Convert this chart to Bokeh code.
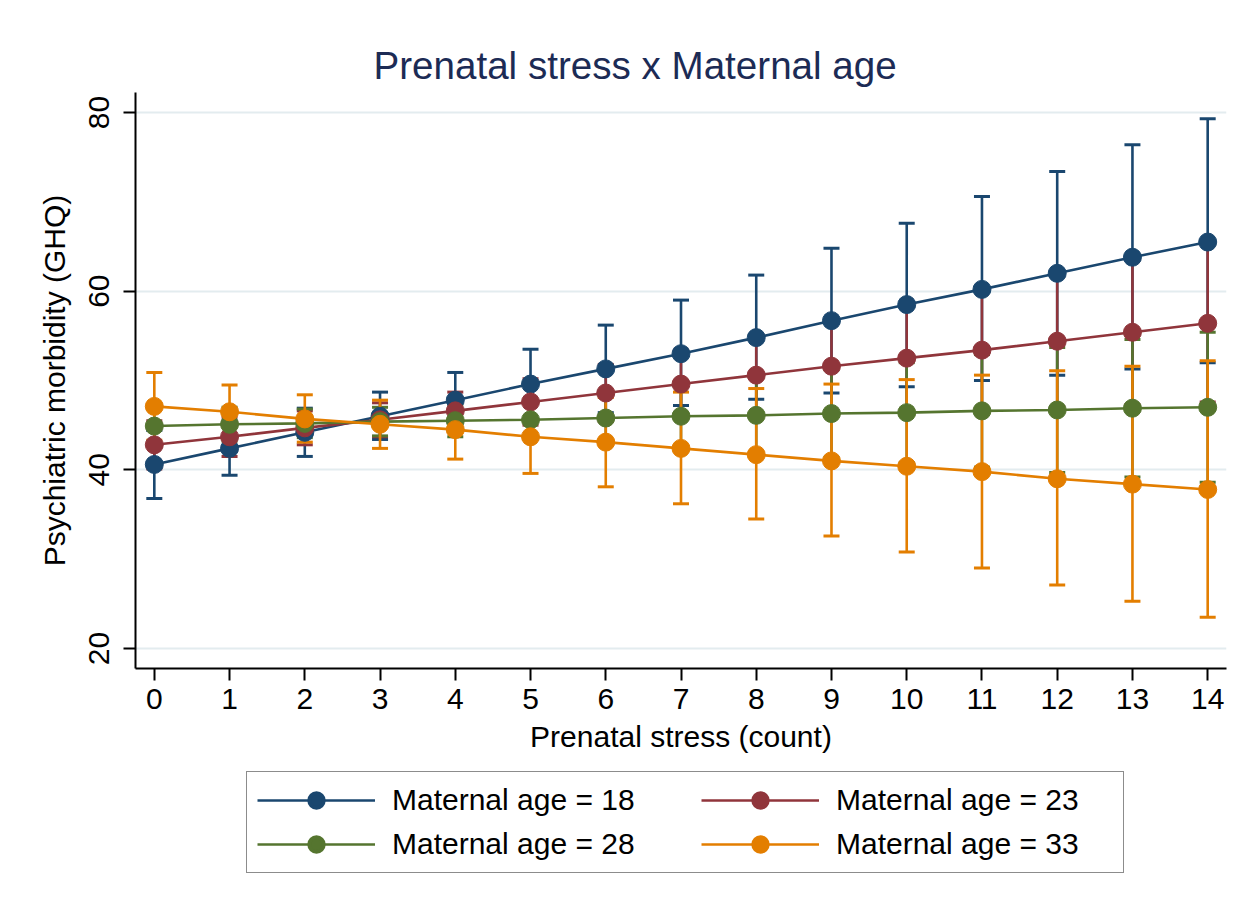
from bokeh.plotting import figure
from bokeh.layouts import column
from bokeh.models import Range1d, FixedTicker, Legend, LegendItem
from bokeh.embed import file_html
from bokeh.resources import INLINE

# ---- data ----
stress = [0, 1, 2, 3, 4, 5, 6, 7, 8, 9, 10, 11, 12, 13, 14]
x_ticks = [0, 1, 2, 3, 4, 5, 6, 7, 8, 9, 10, 11, 12, 13, 14]
y_ticks = [20, 40, 60, 80]

labels = ["Maternal age = 18", "Maternal age = 23", "Maternal age = 28", "Maternal age = 33"]
colors = ["#1a476f", "#90353b", "#55752f", "#e37e00"]

age18_mean = [40.6, 42.4, 44.2, 46.0, 47.8, 49.6, 51.3, 53.0, 54.8, 56.7, 58.5, 60.2, 62.0, 63.8, 65.5]
age18_lo = [36.8, 39.4, 41.5, 43.4, 44.7, 45.7, 46.4, 47.2, 47.9, 48.6, 49.3, 50.0, 50.6, 51.3, 52.0]
age18_hi = [44.4, 45.5, 46.9, 48.7, 50.9, 53.5, 56.2, 59.0, 61.8, 64.8, 67.6, 70.6, 73.4, 76.4, 79.3]

age23_mean = [42.8, 43.7, 44.7, 45.6, 46.6, 47.6, 48.6, 49.6, 50.6, 51.6, 52.5, 53.4, 54.4, 55.4, 56.4]
age23_lo = [40.1, 41.5, 42.8, 43.7, 44.5, 45.0, 45.4, 45.8, 46.1, 46.4, 46.6, 46.8, 47.1, 47.3, 47.6]
age23_hi = [45.5, 45.9, 46.6, 47.5, 48.7, 50.2, 51.8, 53.4, 55.1, 56.8, 58.4, 60.0, 61.7, 63.5, 65.2]

age28_mean = [44.9, 45.1, 45.2, 45.4, 45.5, 45.6, 45.8, 46.0, 46.1, 46.3, 46.4, 46.6, 46.7, 46.9, 47.0]
age28_lo = [42.6, 43.2, 43.6, 43.8, 43.7, 43.4, 43.0, 42.6, 41.9, 41.4, 40.8, 40.3, 39.7, 39.2, 38.6]
age28_hi = [47.2, 47.0, 46.8, 47.0, 47.3, 47.8, 48.6, 49.4, 50.3, 51.2, 52.0, 52.9, 53.7, 54.6, 55.4]

age33_mean = [47.1, 46.5, 45.7, 45.1, 44.5, 43.7, 43.1, 42.4, 41.7, 41.0, 40.4, 39.8, 39.0, 38.4, 37.8]
age33_lo = [43.3, 43.5, 43.1, 42.4, 41.2, 39.6, 38.1, 36.2, 34.5, 32.6, 30.8, 29.0, 27.1, 25.3, 23.5]
age33_hi = [50.9, 49.5, 48.4, 47.8, 47.8, 47.8, 48.1, 48.7, 49.1, 49.6, 50.1, 50.6, 51.1, 51.6, 52.2]

means = [age18_mean, age23_mean, age28_mean, age33_mean]
los = [age18_lo, age23_lo, age28_lo, age33_lo]
his = [age18_hi, age23_hi, age28_hi, age33_hi]

FONT = "Liberation Sans"

p = figure(width=1232, height=760, output_backend="svg", toolbar_location=None,
           x_range=Range1d(-0.25, 14.25), y_range=Range1d(17.76, 82.24),
           min_border_left=135, min_border_right=6, min_border_top=92, min_border_bottom=92,
           background_fill_color="white", border_fill_color="white")
p.outline_line_color = None

# title
p.title.text = "Prenatal stress x Maternal age"
p.title.text_font = FONT
p.title.text_font_size = "38.6px"
p.title.text_font_style = "normal"
p.title.text_color = "#1c2b55"
p.title.align = "left"
p.title.offset = 238
p.title.standoff = 11

# axes
for ax in (p.xaxis[0], p.yaxis[0]):
    ax.axis_line_color = "black"
    ax.axis_line_width = 2
    ax.major_tick_line_color = "black"
    ax.major_tick_line_width = 2
    ax.major_tick_out = 12
    ax.major_tick_in = 0
    ax.minor_tick_line_color = None
    ax.major_label_text_font = FONT
    ax.major_label_text_font_size = "30px"
    ax.major_label_text_color = "black"
    ax.axis_label_text_font = FONT
    ax.axis_label_text_font_size = "30px"
    ax.axis_label_text_font_style = "normal"
    ax.axis_label_text_color = "black"

p.xaxis.ticker = FixedTicker(ticks=x_ticks)
p.yaxis.ticker = FixedTicker(ticks=y_ticks)
p.xaxis.axis_label = "Prenatal stress (count)"
p.yaxis.axis_label = "Psychiatric morbidity (GHQ)"
p.yaxis.major_label_orientation = "vertical"
p.xaxis.major_label_standoff = 8
p.yaxis.major_label_standoff = 14
p.xaxis.axis_label_standoff = 8
p.yaxis.axis_label_standoff = 16

p.xgrid.grid_line_color = None
p.ygrid.grid_line_color = "#e3ecef"
p.ygrid.grid_line_width = 2

# confidence intervals
for m, lo, hi, c in zip(means, los, his, colors):
    p.segment(x0=stress, y0=lo, x1=stress, y1=hi, line_color=c, line_width=2.6)
    p.scatter(x=stress, y=lo, marker="dash", size=16, line_color=c, line_width=3)
    p.scatter(x=stress, y=hi, marker="dash", size=16, line_color=c, line_width=3)

# lines + markers
for m, c in zip(means, colors):
    p.line(x=stress, y=m, line_color=c, line_width=2.6)
    p.scatter(x=stress, y=m, marker="circle", size=18, fill_color=c, line_color=c)

# legend strip below the chart (frame aligned with the chart: left edge at x=135)
q = figure(width=1232, height=133, output_backend="svg", toolbar_location=None,
           x_range=Range1d(0, 1), y_range=Range1d(0, 1),
           x_axis_location=None, y_axis_location=None,
           min_border_left=135, min_border_right=6, min_border_top=0, min_border_bottom=0,
           background_fill_color="white", border_fill_color="white")
q.outline_line_color = None
q.grid.visible = False

items = []
for c, lab in zip(colors, labels):
    lr = q.line(x=[-5, -4], y=[-5, -5], line_color=c, line_width=2.6)
    sr = q.scatter(x=[-5], y=[-5], marker="circle", size=18, fill_color=c,
                   line_color=c, line_width=4)
    items.append(LegendItem(label=lab, renderers=[lr, sr]))

def make_legend(its, loc, lw, boxed):
    lg = Legend(items=its, location=loc, orientation="vertical",
                padding=10, spacing=8, margin=0,
                glyph_width=118, glyph_height=36, label_height=36,
                label_standoff=17, label_width=lw,
                label_text_font=FONT, label_text_font_size="30px",
                label_text_color="black")
    if boxed:
        lg.border_line_color = "#1a1a1a"
        lg.border_line_width = 1.6
        lg.background_fill_color = "white"
        lg.background_fill_alpha = 1
    else:
        lg.border_line_color = None
        lg.background_fill_alpha = 0
    return lg

leg1 = make_legend([items[0], items[2]], (111, 20), 721, True)
leg2 = make_legend([items[1], items[3]], (566, 31), 20, False)
q.add_layout(leg1, "center")
q.add_layout(leg2, "center")

layout = column(p, q, spacing=0)
open("out.html", "w").write(file_html(layout, INLINE))
